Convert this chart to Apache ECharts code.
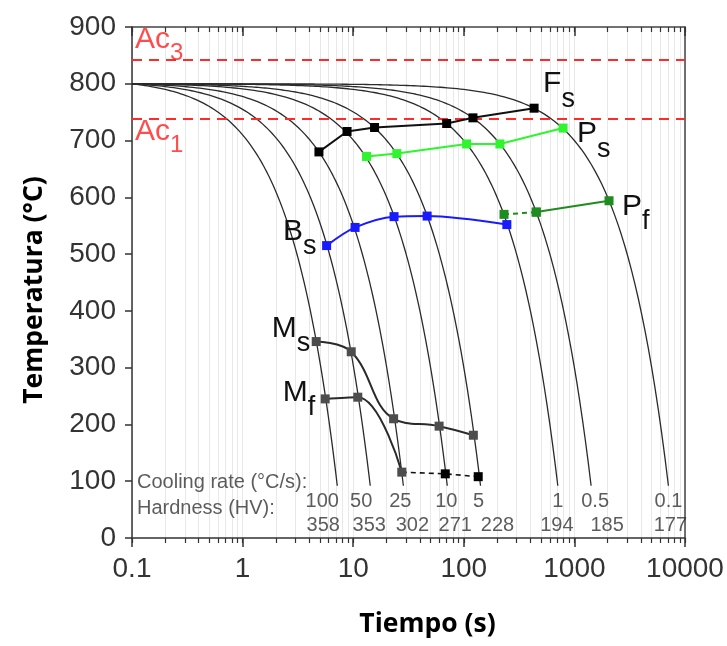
<!DOCTYPE html>
<html>
<head>
<meta charset="utf-8">
<script src="https://cdn.jsdelivr.net/npm/echarts@6/dist/echarts.min.js"></script>
<style>
  html, body { margin: 0; padding: 0; background: #fff; }
  #chart { width: 727px; height: 646px; }
</style>
</head>
<body>
<div id="chart"></div>
<script>
// ---- CCT diagram data ----
// Cooling rates (°C/s) of the continuous cooling curves and resulting hardness (HV)
const coolingRates = [100, 50, 25, 10, 5, 1, 0.5, 0.1];
const hardnessHV   = [358, 353, 302, 271, 228, 194, 185, 177];

// Austenitizing start and curve end
const startTime = 0.1;     // s
const startTemp = 800;     // °C
const endTemp   = 92;      // °C

// Critical temperatures (°C)
const ac3Temp = 842;
const ac1Temp = 738;

// Transformation points [time (s), temperature (°C)]
const ferriteStart     = [[4.9, 680], [8.8, 716], [15.6, 723], [70, 730], [121, 740], [432, 757]];
const pearliteStart    = [[13.2, 672], [24.8, 677], [106, 694], [212, 694], [790, 722]];
const pearliteFinish   = [[231, 570], [452, 574], [2056, 594]];
const bainiteStart     = [[5.75, 515], [10.4, 547], [23.4, 566], [46.6, 567], [245, 552]];
const martensiteStart  = [[4.63, 346], [9.6, 328], [23.2, 210], [59.8, 197], [122, 181]];
const martensiteFinish = [[5.58, 245], [11.0, 248], [27.5, 116], [68, 113], [135, 108]];

// Axis ticks
const timeMajorTicks = [0.1, 1, 10, 100, 1000, 10000];
const timeTickLabels = ['0.1', '1', '10', '100', '1000', '10000'];

// ---- helpers ----
const timeAllTicks = [];
for (let d = 0; d < timeMajorTicks.length - 1; d++) {
  for (let k = 1; k <= 9; k++) timeAllTicks.push(+(timeMajorTicks[d] * k).toPrecision(3));
}
timeAllTicks.push(timeMajorTicks[timeMajorTicks.length - 1]);

// linear cooling at a constant rate, sampled along the log time axis
function coolingCurve(rate) {
  const tEnd = startTime + (startTemp - endTemp) / rate;
  const pts = [];
  const n = 160;
  for (let i = 0; i <= n; i++) {
    const t = startTime * Math.pow(tEnd / startTime, i / n);
    pts.push([t, startTemp - rate * (t - startTime)]);
  }
  return pts;
}
const curveEnds = coolingRates.map(r => [startTime + (startTemp - endTemp) / r, endTemp]);

// ---- styles ----
const FONT = "'Liberation Sans', Arial, Helvetica, sans-serif";
const TITLE_FONT = "'Open Sans', sans-serif";
const AXIS_COLOR = '#333';
const rateLabelShift     = [-15, -9, -3, -1, -2, 0, 4, 0];
const hardnessLabelShift = [-14, -1, 9, 8, 17, -1, 16, 2];

function subRich(color, mainSize, subSize, shift) {
  return {
    m: { fontFamily: FONT, fontSize: mainSize, lineHeight: 30, verticalAlign: 'top', color: color },
    s: { fontFamily: FONT, fontSize: subSize, lineHeight: 30 + 2 * shift, color: color }
  };
}

function phaseLabel(text, sub, align, offset) {
  return {
    show: true,
    position: 'inside',
    align: align,
    verticalAlign: 'middle',
    offset: offset,
    formatter: '{m|' + text + '}{s|' + sub + '}',
    rich: subRich('#111', 30, 27, 15)
  };
}

function withLabel(points, index, label) {
  return points.map((p, i) => i === index ? { value: p, label: label } : p);
}

const series = [];

// Cooling curves
coolingRates.forEach((r, i) => {
  const s = {
    type: 'line',
    name: r + ' °C/s',
    data: coolingCurve(r),
    showSymbol: false,
    silent: true,
    z: 2,
    lineStyle: { color: '#2b2b2b', width: 1.3 }
  };
  if (i === 0) {
    s.markLine = {
      silent: true,
      symbol: 'none',
      label: { show: false },
      lineStyle: { color: '#ff2a2a', width: 2, type: [10, 7] },
      data: [
        [{ coord: [timeMajorTicks[0], ac3Temp] }, { coord: [timeMajorTicks[timeMajorTicks.length - 1], ac3Temp] }],
        [{ coord: [timeMajorTicks[0], ac1Temp] }, { coord: [timeMajorTicks[timeMajorTicks.length - 1], ac1Temp] }]
      ]
    };
  }
  series.push(s);
});

// Ac3 / Ac1 labels
series.push({
  type: 'scatter',
  symbolSize: 1,
  silent: true,
  itemStyle: { color: 'rgba(0,0,0,0)' },
  z: 6,
  data: [
    { value: [timeMajorTicks[0], ac3Temp], label: { show: true, position: 'inside', align: 'left', verticalAlign: 'middle', offset: [3, -7], formatter: '{m|Ac}{s|3}', rich: subRich('#ff2020', 30, 24, 13) } },
    { value: [timeMajorTicks[0], ac1Temp], label: { show: true, position: 'inside', align: 'left', verticalAlign: 'middle', offset: [3, 26], formatter: '{m|Ac}{s|1}', rich: subRich('#ff2020', 30, 24, 13) } }
  ]
});

// Ferrite start
series.push({
  type: 'line', name: 'Fs', z: 5,
  data: withLabel(ferriteStart, ferriteStart.length - 1, phaseLabel('F', 's', 'left', [9, -9])),
  symbol: 'rect', symbolSize: 9,
  lineStyle: { color: '#111', width: 2 },
  itemStyle: { color: '#000' }
});

// Pearlite start
series.push({
  type: 'line', name: 'Ps', z: 5,
  data: withLabel(pearliteStart, pearliteStart.length - 1, phaseLabel('P', 's', 'left', [14, 21])),
  symbol: 'rect', symbolSize: 9,
  lineStyle: { color: '#2ef52e', width: 2 },
  itemStyle: { color: '#2ef52e' }
});

// Pearlite finish (dashed first segment)
series.push({
  type: 'line', name: 'Pf dashed', z: 5,
  data: pearliteFinish.slice(0, 2),
  symbol: 'rect', symbolSize: 9,
  lineStyle: { color: '#1e8c1e', width: 2, type: [5, 4] },
  itemStyle: { color: '#1e8c1e' }
});
series.push({
  type: 'line', name: 'Pf', z: 5,
  data: withLabel(pearliteFinish.slice(1), 1, phaseLabel('P', 'f', 'left', [13, 21])),
  symbol: 'rect', symbolSize: 9,
  lineStyle: { color: '#1e8c1e', width: 2 },
  itemStyle: { color: '#1e8c1e' }
});

// Bainite start
series.push({
  type: 'line', name: 'Bs', z: 5, smooth: 0.3,
  data: withLabel(bainiteStart, 0, phaseLabel('B', 's', 'right', [-10, 1])),
  symbol: 'rect', symbolSize: 9,
  lineStyle: { color: '#1a1aff', width: 2 },
  itemStyle: { color: '#1a1aff' }
});

// Martensite start
series.push({
  type: 'line', name: 'Ms', z: 5, smooth: 0.4,
  data: withLabel(martensiteStart, 0, phaseLabel('M', 's', 'right', [-6, 2])),
  symbol: 'rect', symbolSize: 9,
  lineStyle: { color: '#2a2a2a', width: 2 },
  itemStyle: { color: '#4d4d4d' }
});

// Martensite finish (solid, then dashed)
series.push({
  type: 'line', name: 'Mf', z: 5, smooth: 0.4,
  data: withLabel(martensiteFinish.slice(0, 3), 0, phaseLabel('M', 'f', 'right', [-10, 9])),
  symbol: 'rect', symbolSize: 9,
  lineStyle: { color: '#2a2a2a', width: 2 },
  itemStyle: { color: '#4d4d4d' }
});
series.push({
  type: 'line', name: 'Mf dashed', z: 4,
  data: martensiteFinish.slice(2).map((p, i) => i === 0 ? { value: p, symbol: 'none' } : p),
  symbol: 'rect', symbolSize: 9,
  lineStyle: { color: '#111', width: 1.6, type: [5, 4] },
  itemStyle: { color: '#000' }
});

// Cooling rate / hardness captions
series.push({
  type: 'scatter',
  symbolSize: 1,
  silent: true,
  itemStyle: { color: 'rgba(0,0,0,0)' },
  z: 6,
  data: [{
    value: [timeMajorTicks[0], 100],
    label: {
      show: true, position: 'inside', align: 'left', verticalAlign: 'middle', offset: [5, 14],
      formatter: 'Cooling rate (°C/s):\nHardness (HV):',
      fontFamily: FONT, fontSize: 20, lineHeight: 26, color: AXIS_COLOR
    }
  }]
});
series.push({
  type: 'scatter',
  symbolSize: 1,
  silent: true,
  itemStyle: { color: 'rgba(0,0,0,0)' },
  z: 6,
  data: curveEnds.map((p, i) => ({
    value: p,
    label: {
      show: true, position: 'inside', align: 'center', verticalAlign: 'middle',
      offset: [rateLabelShift[i], 16],
      formatter: String(coolingRates[i]),
      fontFamily: FONT, fontSize: 20, color: AXIS_COLOR
    }
  }))
});
series.push({
  type: 'scatter',
  symbolSize: 1,
  silent: true,
  itemStyle: { color: 'rgba(0,0,0,0)' },
  z: 6,
  data: curveEnds.map((p, i) => ({
    value: p,
    label: {
      show: true, position: 'inside', align: 'center', verticalAlign: 'middle',
      offset: [hardnessLabelShift[i], 40],
      formatter: String(hardnessHV[i]),
      fontFamily: FONT, fontSize: 20, color: AXIS_COLOR
    }
  }))
});

const logAxisBase = {
  type: 'log', logBase: 10, min: 0.1, max: 10000, gridIndex: 0
};

const option = {
  animation: false,
  backgroundColor: '#fff',
  grid: { left: 132, right: 42, top: 27, bottom: 108, containLabel: false },
  xAxis: [
    Object.assign({}, logAxisBase, {
      position: 'bottom',
      name: 'Tiempo (s)',
      nameLocation: 'middle',
      nameGap: 73,
      nameTextStyle: { fontFamily: TITLE_FONT, fontWeight: 'bold', fontSize: 26.5, color: '#000', padding: [0, 0, 0, 38] },
      axisLine: { show: true, onZero: false, lineStyle: { color: AXIS_COLOR, width: 1.5 } },
      axisTick: { show: true, inside: false, length: 9, customValues: timeMajorTicks, lineStyle: { color: AXIS_COLOR, width: 1.5 } },
      axisLabel: {
        show: true, customValues: timeMajorTicks, margin: 17,
        fontFamily: FONT, fontSize: 28, color: AXIS_COLOR,
        formatter: v => timeTickLabels[timeMajorTicks.findIndex(m => Math.abs(m - v) / m < 1e-6)] || ''
      },
      splitLine: { show: false }
    }),
    Object.assign({}, logAxisBase, {
      position: 'bottom',
      axisLine: { show: false, onZero: false },
      axisTick: { show: true, inside: false, length: 5, customValues: timeAllTicks, lineStyle: { color: AXIS_COLOR, width: 1.2 } },
      axisLabel: { show: false },
      splitLine: { show: true, lineStyle: { color: '#e8e8e8', width: 1 } }
    }),
    Object.assign({}, logAxisBase, {
      position: 'top',
      axisLine: { show: true, onZero: false, lineStyle: { color: '#444', width: 1.5 } },
      axisTick: { show: true, inside: true, length: 9, customValues: timeMajorTicks, lineStyle: { color: AXIS_COLOR, width: 1.5 } },
      axisLabel: { show: false },
      splitLine: { show: false }
    }),
    Object.assign({}, logAxisBase, {
      position: 'top',
      axisLine: { show: false, onZero: false },
      axisTick: { show: true, inside: true, length: 5, customValues: timeAllTicks, lineStyle: { color: AXIS_COLOR, width: 1.2 } },
      axisLabel: { show: false },
      splitLine: { show: false }
    })
  ],
  yAxis: [
    {
      type: 'value', min: 0, max: 900, interval: 100, position: 'left',
      name: 'Temperatura (°C)',
      nameLocation: 'middle',
      nameGap: 84,
      nameTextStyle: { fontFamily: TITLE_FONT, fontWeight: 'bold', fontSize: 26.5, color: '#000', padding: [0, 15, 0, 0] },
      axisLine: { show: true, onZero: false, lineStyle: { color: AXIS_COLOR, width: 1.5 } },
      axisTick: { show: true, inside: false, length: 7, lineStyle: { color: AXIS_COLOR, width: 1.5 } },
      axisLabel: { show: true, margin: 16, fontFamily: FONT, fontSize: 28, color: AXIS_COLOR },
      splitLine: { show: false }
    },
    {
      type: 'value', min: 0, max: 900, interval: 100, position: 'right',
      axisLine: { show: true, onZero: false, lineStyle: { color: '#444', width: 1.5 } },
      axisTick: { show: false },
      axisLabel: { show: false },
      splitLine: { show: false }
    }
  ],
  series: series
};

const chart = echarts.init(document.getElementById('chart'), null, { renderer: 'canvas' });
chart.setOption(option);
</script>
</body>
</html>
